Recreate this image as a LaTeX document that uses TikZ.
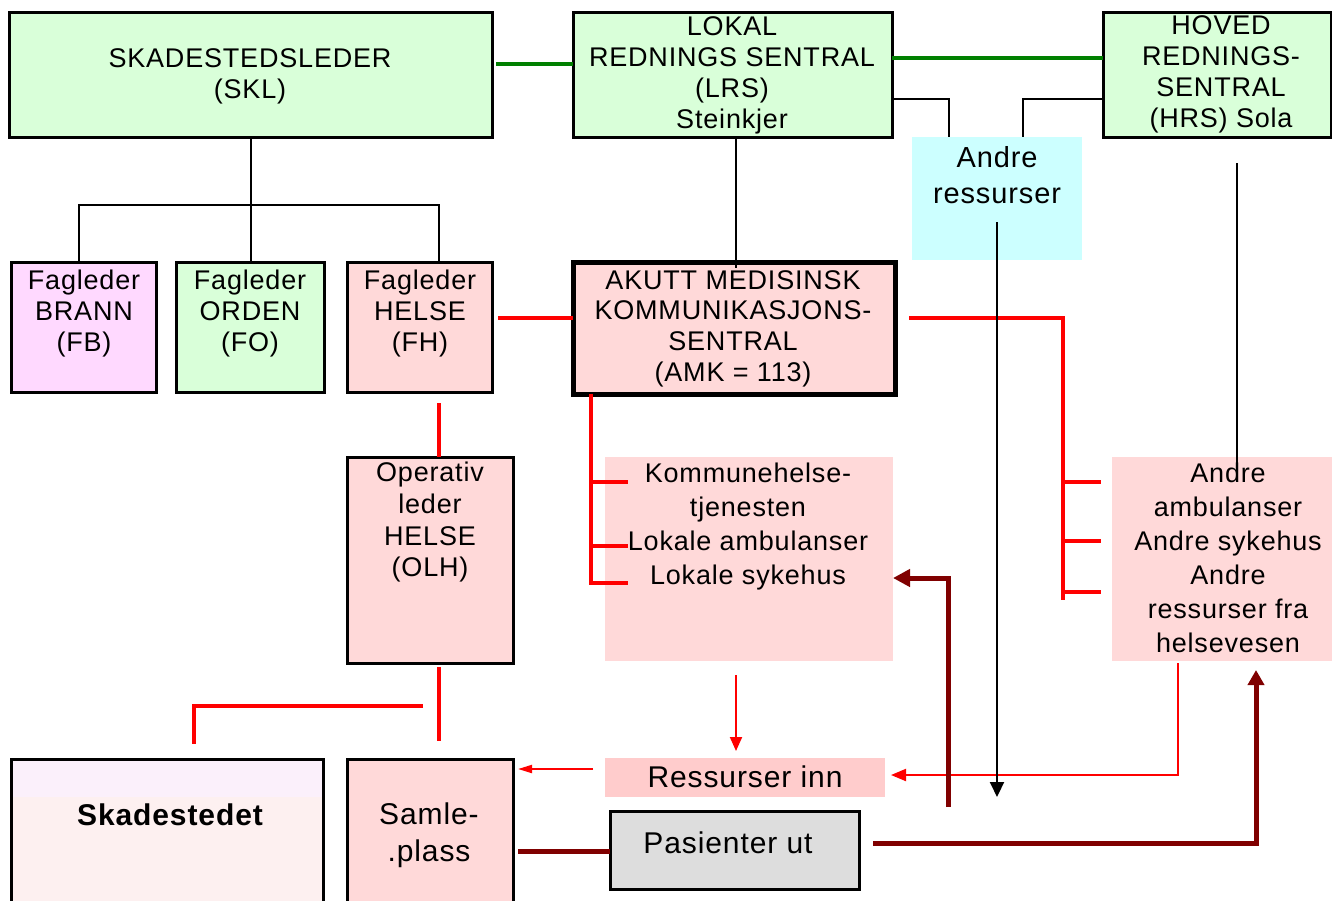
\documentclass[tikz,border=0pt]{standalone}
\usepackage{fontspec}
\newfontfamily\lsf{Liberation Sans}[LetterSpace=3]
\usetikzlibrary{arrows.meta}
\definecolor{boxgreen}{RGB}{217,255,217}
\definecolor{boxpink}{RGB}{255,217,217}
\definecolor{boxviolet}{RGB}{255,217,255}
\definecolor{boxcyan}{RGB}{204,255,255}
\definecolor{boxgrey}{RGB}{221,221,221}
\definecolor{resinnpink}{RGB}{255,204,204}
\definecolor{skadlow}{RGB}{253,240,240}
\definecolor{skadtop}{RGB}{251,240,251}
\definecolor{lgreen}{RGB}{0,128,0}
\definecolor{dred}{RGB}{128,0,0}
\begin{document}
\begin{tikzpicture}[x=1pt,y=-1pt,
  box/.style={draw=black,line width=3pt,anchor=north west,inner sep=0pt,outer sep=0pt},
  flat/.style={anchor=north west,inner sep=0pt,outer sep=0pt},
  txt/.style={align=center,inner sep=0pt,anchor=north,font=\lsf\fontsize{27}{31}\selectfont},
  txtamk/.style={txt,font=\lsf\fontsize{27}{30.7}\selectfont},
  txtolh/.style={txt,font=\lsf\fontsize{27}{31.7}\selectfont},
  txtwide/.style={txt,font=\lsf\fontsize{27}{34}\selectfont},
  txtres/.style={txt,font=\lsf\fontsize{29}{36}\selectfont},
  txtbig/.style={align=center,inner sep=0pt,font=\lsf\fontsize{30}{36.5}\selectfont},
  blk/.style={line width=2pt,draw=black},
  redk/.style={line width=4pt,draw=red},
  redt/.style={line width=2pt,draw=red},
  grn/.style={line width=4pt,draw=lgreen},
  drd/.style={line width=5pt,draw=dred},
]
\useasboundingbox (0,0) rectangle (1332,900);
\clip (0,0) rectangle (1332,900);

% boxes
\node[box,fill=boxgreen,minimum width=483pt,minimum height=125pt] (skl) at (9,12) {};
\node[box,fill=boxgreen,minimum width=319pt,minimum height=125pt] (lrs) at (573,12) {};
\node[box,fill=boxgreen,minimum width=228pt,minimum height=125pt] (hrs) at (1103,12) {};
\node[flat,fill=boxcyan,minimum width=170pt,minimum height=123pt] (andres) at (912,137) {};
\node[box,fill=boxviolet,minimum width=145pt,minimum height=130pt] (fb) at (11,262) {};
\node[box,fill=boxgreen,minimum width=148pt,minimum height=130pt] (fo) at (176,262) {};
\node[box,fill=boxpink,minimum width=145pt,minimum height=130pt] (fh) at (347,262) {};
\node[box,line width=5pt,fill=boxpink,minimum width=322pt,minimum height=132pt] (amk) at (573,262) {};
\node[box,fill=boxpink,minimum width=166pt,minimum height=206pt] (olh) at (347,457) {};
\node[flat,fill=boxpink,minimum width=288pt,minimum height=204pt] (kom) at (605,457) {};
\node[flat,fill=boxpink,minimum width=220pt,minimum height=204pt] (andamb) at (1112,457) {};
\node[box,fill=skadlow,minimum width=312pt,minimum height=146pt] (skad) at (11,759) {};
\fill[skadtop] ([shift={(1.5,1.5)}]skad.north west) rectangle ([shift={(-1.5,38)}]skad.north east);
\node[box,fill=boxpink,minimum width=166pt,minimum height=146pt] (samle) at (347,759) {};
\node[flat,fill=resinnpink,minimum width=280pt,minimum height=39pt] (resinn) at (605,758) {};
\node[box,fill=boxgrey,minimum width=249pt,minimum height=78pt] (pas) at (610,811) {};

% red connectors
\draw[redk] ([shift={(6,-9)}]fh.east) -- ([shift={(0,-10)}]amk.west);
\draw[redk] ([shift={(19.5,11)}]fh.south) -- ([shift={(9,0)}]olh.north);
\draw[redk] ([shift={(14,-10)}]amk.east) -| ([shift={(-49,41)}]andamb.west);
\draw[redk] ([shift={(-49,-77)}]andamb.west) -- ([shift={(-11,-77)}]andamb.west);
\draw[redk] ([shift={(-49,-18)}]andamb.west) -- ([shift={(-11,-18)}]andamb.west);
\draw[redk] ([shift={(-49,33)}]andamb.west) -- ([shift={(-11,33)}]andamb.west);
\draw[redk] ([xshift=-143pt]amk.south) |- ([shift={(23,24)}]kom.west);
\draw[redk] ([shift={(-14,-77)}]kom.west) -- ([shift={(23,-77)}]kom.west);
\draw[redk] ([shift={(-14,-13)}]kom.west) -- ([shift={(23,-13)}]kom.west);
\draw[redk] ([shift={(9,4)}]olh.south) -- ([shift={(9,-18)}]samle.north);
\draw[redk] ([shift={(-7,43)}]olh.south) -| ([shift={(27,-15)}]skad.north);
\draw[redt,-{Triangle[length=14pt,width=12pt]}] ([shift={(-13,14)}]kom.south) -- ([shift={(-9,-7)}]resinn.north);
\draw[redt,-{Triangle[length=14pt,width=8pt]}] ([shift={(-12,-8.5)}]resinn.west) -- ([shift={(5,-63)}]samle.east);
\draw[redt,-{Triangle[length=15pt,width=12pt]}] ([shift={(-44,2)}]andamb.south) |- ([shift={(6,-2.5)}]resinn.east);

% green connectors
\draw[grn] ([shift={(4,-10.5)}]skl.east) -- ([shift={(0,-10.5)}]lrs.west);
\draw[grn] ([shift={(0,-16.5)}]lrs.east) -- ([shift={(0,-16.5)}]hrs.west);

% dark red connectors
\draw[drd] ([shift={(5,19)}]samle.east) -- ([shift={(0,1)}]pas.west);
\draw[drd,-{Triangle[length=15pt,width=16pt]}] ([shift={(14,-7)}]pas.east) -| ([shift={(34,9)}]andamb.south);
\coordinate (drstart) at (948,807);
\draw[drd,-{Triangle[length=17pt,width=17pt]}] (drstart) |- ([shift={(0,19)}]kom.east);

% black connectors
\draw[blk] (skl.south) -- (skl.south |- fo.north);
\draw[blk] ([xshift=-4.5pt]fb.north) |- ([shift={(19.5,-57)}]fh.north) -- ([xshift=19.5pt]fh.north);
\draw[blk] ([xshift=3.5pt]lrs.south) -- ([shift={(2,6)}]amk.north);
\draw[blk] ([shift={(0,24.5)}]lrs.east) -| ([xshift=-48pt]andres.north);
\draw[blk] ([shift={(0,24.5)}]hrs.west) -| ([xshift=26pt]andres.north);
\draw[blk] ([shift={(20,26)}]hrs.south) -- ([shift={(15,6)}]andamb.north);
\coordinate (blkend) at (997,797);
\draw[blk,-{Triangle[length=15pt,width=14pt]}] ([shift={(0,-38)}]andres.south) -- (blkend);

% texts
\node[txt] (skl-t) at (250,48) {SKADESTEDSLEDER\\(SKL)};
\node[txt] (lrs-t) at (732,16) {LOKAL\\REDNINGS SENTRAL\\(LRS)\\Steinkjer};
\node[txt] (hrs-t) at (1221,15) {HOVED\\REDNINGS-\\SENTRAL\\(HRS) Sola};
\node[txtres] (andres-t) at (997,146) {Andre\\ressurser};
\node[txt] (fb-t) at (84,270) {Fagleder\\BRANN\\(FB)};
\node[txt] (fo-t) at (250,270) {Fagleder\\ORDEN\\(FO)};
\node[txt] (fh-t) at (420,270) {Fagleder\\HELSE\\(FH)};
\node[txtamk] (amk-t) at (733,270) {AKUTT MEDISINSK\\KOMMUNIKASJONS-\\SENTRAL\\(AMK = 113)};
\node[txtolh] (olh-t) at (430,462) {Operativ\\leder\\HELSE\\(OLH)};
\node[txtwide] (kom-t) at (748,463) {Kommunehelse-\\tjenesten\\Lokale ambulanser\\Lokale sykehus};
\node[txtwide] (andamb-t) at (1228,463) {Andre\\ambulanser\\Andre sykehus\\Andre\\ressurser fra\\helsevesen};
\node[txtbig,anchor=base,font=\lsf\bfseries\fontsize{30}{34}\selectfont] (skad-t) at (170,825) {Skadestedet};
\node[txtbig,anchor=north] (samle-t) at (429,803) {Samle-\\.plass};
\node[txtbig,anchor=base] (resinn-t) at (745,787) {Ressurser inn};
\node[txtbig,anchor=base] (pas-t) at (728,853) {Pasienter ut};
\end{tikzpicture}
\end{document}
